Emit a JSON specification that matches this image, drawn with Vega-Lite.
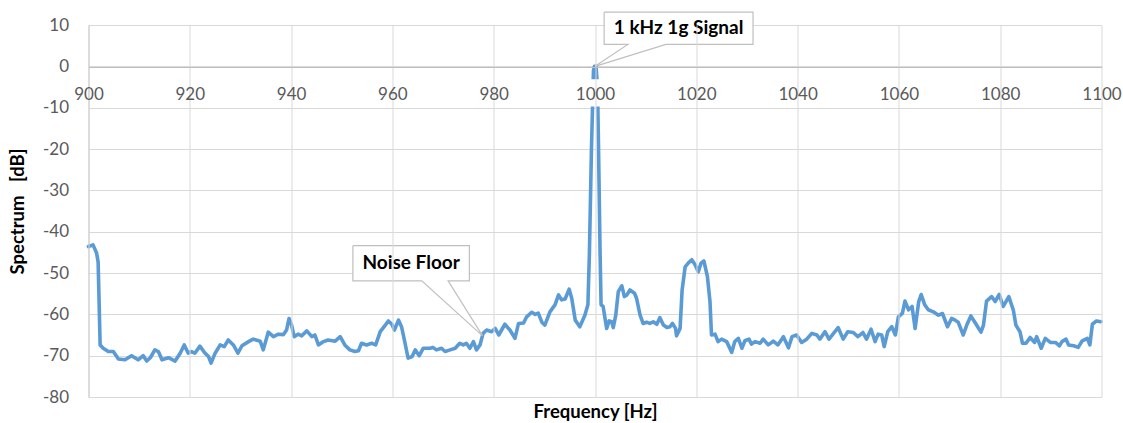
{
  "$schema": "https://vega.github.io/schema/vega-lite/v6.json",
  "width": 1013,
  "height": 372,
  "autosize": {"type": "none"},
  "padding": {"left": 88.5, "top": 25, "right": 21.5, "bottom": 26},
  "background": "white",
  "config": {"view": {"stroke": null}, "font": "Lato"},
  "datasets": {
    "spectrum": [
      {"f": 900.0, "db": -43.6}, {"f": 900.9, "db": -43.2}, {"f": 901.6, "db": -45.2}, {"f": 901.9, "db": -47.3},
      {"f": 902.3, "db": -67.4}, {"f": 902.9, "db": -68.2}, {"f": 903.9, "db": -69.0}, {"f": 904.9, "db": -69.0},
      {"f": 905.9, "db": -70.8}, {"f": 907.2, "db": -71.0}, {"f": 908.5, "db": -70.0}, {"f": 909.8, "db": -71.0},
      {"f": 910.8, "db": -70.0}, {"f": 911.5, "db": -71.3}, {"f": 912.2, "db": -70.5}, {"f": 913.1, "db": -68.6},
      {"f": 913.8, "db": -69.0}, {"f": 914.5, "db": -71.0}, {"f": 915.8, "db": -70.5}, {"f": 917.1, "db": -71.3},
      {"f": 918.1, "db": -69.4}, {"f": 918.9, "db": -67.4}, {"f": 919.7, "db": -69.4}, {"f": 920.3, "db": -69.0},
      {"f": 921.0, "db": -69.4}, {"f": 922.0, "db": -67.7}, {"f": 923.0, "db": -69.4}, {"f": 923.7, "db": -70.2},
      {"f": 924.2, "db": -71.8}, {"f": 925.0, "db": -69.4}, {"f": 926.0, "db": -67.4}, {"f": 926.8, "db": -67.8},
      {"f": 927.6, "db": -66.2}, {"f": 928.6, "db": -67.4}, {"f": 929.5, "db": -69.4}, {"f": 930.3, "db": -67.6},
      {"f": 931.6, "db": -66.6}, {"f": 932.5, "db": -66.0}, {"f": 933.9, "db": -66.5}, {"f": 934.5, "db": -68.6},
      {"f": 935.5, "db": -64.3}, {"f": 936.5, "db": -65.4}, {"f": 937.5, "db": -64.8}, {"f": 938.5, "db": -64.9},
      {"f": 939.1, "db": -63.8}, {"f": 939.6, "db": -61.0}, {"f": 940.1, "db": -62.6}, {"f": 940.6, "db": -65.4},
      {"f": 941.4, "db": -64.8}, {"f": 942.1, "db": -65.2}, {"f": 943.1, "db": -64.0}, {"f": 944.1, "db": -65.4},
      {"f": 944.7, "db": -65.0}, {"f": 945.4, "db": -67.4}, {"f": 946.4, "db": -66.6}, {"f": 947.3, "db": -66.2},
      {"f": 948.7, "db": -66.5}, {"f": 949.7, "db": -65.4}, {"f": 950.6, "db": -67.4}, {"f": 951.6, "db": -68.6},
      {"f": 952.6, "db": -69.0}, {"f": 953.3, "db": -68.8}, {"f": 953.9, "db": -67.0}, {"f": 954.9, "db": -67.4},
      {"f": 955.9, "db": -67.0}, {"f": 956.7, "db": -67.4}, {"f": 957.6, "db": -64.2}, {"f": 958.6, "db": -62.6},
      {"f": 959.2, "db": -61.6}, {"f": 959.9, "db": -62.4}, {"f": 960.4, "db": -63.8}, {"f": 961.2, "db": -61.4},
      {"f": 961.8, "db": -63.0}, {"f": 962.3, "db": -65.8}, {"f": 963.1, "db": -70.6}, {"f": 963.9, "db": -70.2},
      {"f": 964.5, "db": -68.6}, {"f": 965.3, "db": -70.0}, {"f": 966.1, "db": -68.2}, {"f": 967.4, "db": -68.2},
      {"f": 968.0, "db": -68.0}, {"f": 968.7, "db": -68.6}, {"f": 969.7, "db": -68.2}, {"f": 970.4, "db": -69.0},
      {"f": 971.4, "db": -68.6}, {"f": 972.4, "db": -68.2}, {"f": 973.3, "db": -67.0}, {"f": 974.0, "db": -67.4},
      {"f": 974.6, "db": -67.0}, {"f": 975.3, "db": -68.2}, {"f": 976.0, "db": -66.6}, {"f": 976.6, "db": -68.6},
      {"f": 977.3, "db": -67.4}, {"f": 977.9, "db": -64.6}, {"f": 978.6, "db": -63.8}, {"f": 979.6, "db": -64.2},
      {"f": 980.3, "db": -63.4}, {"f": 981.0, "db": -65.0}, {"f": 982.2, "db": -62.4}, {"f": 983.2, "db": -63.8},
      {"f": 984.2, "db": -65.8}, {"f": 984.9, "db": -62.2}, {"f": 985.9, "db": -62.1}, {"f": 986.5, "db": -60.6},
      {"f": 987.5, "db": -59.5}, {"f": 988.2, "db": -60.0}, {"f": 988.8, "db": -59.7}, {"f": 989.5, "db": -61.9},
      {"f": 990.1, "db": -62.6}, {"f": 991.1, "db": -59.4}, {"f": 992.1, "db": -57.7}, {"f": 992.8, "db": -55.3},
      {"f": 993.4, "db": -56.5}, {"f": 994.1, "db": -56.3}, {"f": 994.9, "db": -53.9}, {"f": 995.4, "db": -56.1},
      {"f": 996.1, "db": -61.4}, {"f": 997.0, "db": -63.0}, {"f": 998.0, "db": -60.2}, {"f": 998.6, "db": -57.7},
      {"f": 998.9, "db": -45.0}, {"f": 999.3, "db": -20.0}, {"f": 999.7, "db": -1.0}, {"f": 999.9, "db": 0.0},
      {"f": 1000.2, "db": 0.0}, {"f": 1000.5, "db": -5.0}, {"f": 1000.7, "db": -20.0}, {"f": 1001.0, "db": -45.0},
      {"f": 1001.2, "db": -57.7},
      {"f": 1001.6, "db": -58.1}, {"f": 1002.3, "db": -63.4}, {"f": 1002.8, "db": -61.6}, {"f": 1003.3, "db": -61.8},
      {"f": 1003.6, "db": -63.2}, {"f": 1004.1, "db": -60.2}, {"f": 1004.6, "db": -54.5}, {"f": 1005.3, "db": -53.1},
      {"f": 1005.8, "db": -55.7}, {"f": 1006.3, "db": -55.3}, {"f": 1006.9, "db": -54.1}, {"f": 1007.8, "db": -54.9},
      {"f": 1008.2, "db": -56.1}, {"f": 1008.9, "db": -60.2}, {"f": 1009.5, "db": -62.2}, {"f": 1010.2, "db": -61.9},
      {"f": 1010.8, "db": -62.2}, {"f": 1011.5, "db": -61.8}, {"f": 1012.2, "db": -62.4}, {"f": 1012.8, "db": -60.8},
      {"f": 1013.5, "db": -62.6}, {"f": 1014.2, "db": -63.2}, {"f": 1014.8, "db": -63.0}, {"f": 1015.3, "db": -62.2},
      {"f": 1015.9, "db": -63.4}, {"f": 1016.1, "db": -65.2}, {"f": 1016.8, "db": -63.4}, {"f": 1017.2, "db": -54.1},
      {"f": 1017.8, "db": -48.5}, {"f": 1018.4, "db": -47.6}, {"f": 1019.1, "db": -46.8}, {"f": 1019.7, "db": -47.9},
      {"f": 1020.4, "db": -49.7}, {"f": 1020.9, "db": -47.7}, {"f": 1021.5, "db": -47.1}, {"f": 1022.2, "db": -50.9},
      {"f": 1022.7, "db": -56.9}, {"f": 1023.0, "db": -65.0}, {"f": 1023.7, "db": -64.8}, {"f": 1024.3, "db": -66.6},
      {"f": 1025.0, "db": -66.0}, {"f": 1026.0, "db": -66.6}, {"f": 1027.0, "db": -69.2}, {"f": 1027.6, "db": -66.6},
      {"f": 1028.3, "db": -65.8}, {"f": 1029.0, "db": -68.2}, {"f": 1029.6, "db": -66.4}, {"f": 1030.4, "db": -66.0},
      {"f": 1030.9, "db": -67.2}, {"f": 1031.6, "db": -66.6}, {"f": 1032.6, "db": -67.0}, {"f": 1033.2, "db": -66.0},
      {"f": 1034.2, "db": -67.4}, {"f": 1035.2, "db": -66.5}, {"f": 1036.1, "db": -67.4}, {"f": 1037.2, "db": -65.4},
      {"f": 1038.2, "db": -68.1}, {"f": 1038.9, "db": -65.4}, {"f": 1039.8, "db": -65.0}, {"f": 1040.8, "db": -66.8},
      {"f": 1041.8, "db": -66.0}, {"f": 1042.8, "db": -64.6}, {"f": 1043.8, "db": -65.0}, {"f": 1044.4, "db": -66.0},
      {"f": 1045.4, "db": -64.2}, {"f": 1046.2, "db": -66.0}, {"f": 1047.1, "db": -64.6}, {"f": 1048.0, "db": -63.2},
      {"f": 1049.0, "db": -66.0}, {"f": 1049.9, "db": -64.2}, {"f": 1051.0, "db": -64.4}, {"f": 1051.9, "db": -65.4},
      {"f": 1052.9, "db": -64.4}, {"f": 1053.6, "db": -66.0}, {"f": 1054.5, "db": -63.6}, {"f": 1055.3, "db": -66.6},
      {"f": 1055.9, "db": -64.8}, {"f": 1056.6, "db": -65.0}, {"f": 1057.1, "db": -67.8}, {"f": 1057.8, "db": -64.2},
      {"f": 1058.6, "db": -63.0}, {"f": 1059.3, "db": -65.0}, {"f": 1059.9, "db": -60.6}, {"f": 1060.7, "db": -59.7},
      {"f": 1061.2, "db": -56.8}, {"f": 1061.9, "db": -58.9}, {"f": 1062.6, "db": -58.1}, {"f": 1063.2, "db": -63.4},
      {"f": 1063.9, "db": -57.0}, {"f": 1064.4, "db": -55.2}, {"f": 1065.1, "db": -57.7}, {"f": 1065.8, "db": -58.9},
      {"f": 1066.8, "db": -59.4}, {"f": 1067.8, "db": -60.2}, {"f": 1068.6, "db": -59.8}, {"f": 1069.6, "db": -63.0},
      {"f": 1070.4, "db": -61.0}, {"f": 1071.1, "db": -61.4}, {"f": 1071.7, "db": -61.9}, {"f": 1072.7, "db": -65.0},
      {"f": 1073.4, "db": -62.6}, {"f": 1074.2, "db": -60.4}, {"f": 1075.0, "db": -61.9}, {"f": 1076.2, "db": -64.3},
      {"f": 1076.7, "db": -62.6}, {"f": 1077.3, "db": -56.8}, {"f": 1078.3, "db": -55.7}, {"f": 1079.0, "db": -56.9},
      {"f": 1079.8, "db": -55.2}, {"f": 1080.6, "db": -58.1}, {"f": 1081.7, "db": -55.7}, {"f": 1082.6, "db": -59.0},
      {"f": 1083.1, "db": -62.6}, {"f": 1083.9, "db": -64.2}, {"f": 1084.4, "db": -67.0}, {"f": 1085.1, "db": -67.0},
      {"f": 1085.9, "db": -65.6}, {"f": 1086.8, "db": -66.8}, {"f": 1087.2, "db": -65.4}, {"f": 1088.1, "db": -68.2},
      {"f": 1088.9, "db": -65.8}, {"f": 1089.9, "db": -66.8}, {"f": 1090.9, "db": -66.8}, {"f": 1091.7, "db": -67.6},
      {"f": 1092.2, "db": -66.6}, {"f": 1093.0, "db": -66.0}, {"f": 1093.5, "db": -67.4}, {"f": 1094.5, "db": -67.6},
      {"f": 1095.4, "db": -68.0}, {"f": 1096.2, "db": -66.4}, {"f": 1097.2, "db": -65.8}, {"f": 1097.7, "db": -67.4},
      {"f": 1098.2, "db": -62.4}, {"f": 1099.0, "db": -61.6}, {"f": 1099.9, "db": -61.8}
    ],
    "callouts": [
      {"k": "signal", "i": 0, "f": 1001.8, "db": 13.1}, {"k": "signal", "i": 1, "f": 1031.2, "db": 13.1},
      {"k": "signal", "i": 2, "f": 1031.2, "db": 5.3}, {"k": "signal", "i": 3, "f": 1014.0, "db": 5.3},
      {"k": "signal", "i": 4, "f": 1000.0, "db": 0.0}, {"k": "signal", "i": 5, "f": 1006.5, "db": 5.3},
      {"k": "signal", "i": 6, "f": 1001.8, "db": 5.3}, {"k": "signal", "i": 7, "f": 1001.8, "db": 13.1},
      {"k": "noise", "i": 0, "f": 952.2, "db": -43.4}, {"k": "noise", "i": 1, "f": 975.2, "db": -43.4},
      {"k": "noise", "i": 2, "f": 975.2, "db": -51.9}, {"k": "noise", "i": 3, "f": 971.0, "db": -51.9},
      {"k": "noise", "i": 4, "f": 977.8, "db": -65.2}, {"k": "noise", "i": 5, "f": 965.8, "db": -51.9},
      {"k": "noise", "i": 6, "f": 952.2, "db": -51.9}, {"k": "noise", "i": 7, "f": 952.2, "db": -43.4}
    ],
    "notes": [
      {"f": 1016.5, "db": 9.2, "text": "1 kHz 1g Signal"},
      {"f": 963.7, "db": -47.6, "text": "Noise Floor"}
    ],
    "labelBack": [
      {"f": 996.0, "f2": 1003.8, "db": -3.1, "db2": -9.7}
    ]
  },
  "layer": [
    {
      "data": {"name": "spectrum"},
      "mark": {"type": "line", "color": "#5B9BD5", "strokeWidth": 3.6, "strokeJoin": "round", "strokeCap": "round"},
      "encoding": {
        "x": {
          "field": "f", "type": "quantitative",
          "scale": {"domain": [900, 1100], "nice": false, "zero": false},
          "axis": {
            "values": [900, 920, 940, 960, 980, 1000, 1020, 1040, 1060, 1080, 1100],
            "labelExpr": "'' + datum.value",
            "labelFlush": false,
            "labelOverlap": false,
            "offset": -330,
            "zindex": 1,
            "title": "Frequency [Hz]",
            "titleY": 344,
            "titleBaseline": "middle",
            "titleFontSize": 18.5,
            "titleFontWeight": "bold",
            "titleColor": "#000000",
            "grid": true,
            "gridColor": "#d9d9d9",
            "gridWidth": 1,
            "domainColor": "#bfbfbf",
            "domainWidth": 1,
            "ticks": false,
            "labelPadding": 19,
            "labelFontSize": 17,
            "labelColor": "#595959"
          }
        },
        "y": {
          "field": "db", "type": "quantitative",
          "scale": {"domain": [-80, 10], "nice": false, "zero": false},
          "axis": {
            "values": [-80, -70, -60, -50, -40, -30, -20, -10, 0, 10],
            "labelExpr": "'' + datum.value",
            "labelFlush": false,
            "labelOverlap": false,
            "title": "Spectrum\u00a0\u00a0\u00a0[dB]",
            "titleX": -71,
            "titleY": 186,
            "titleAngle": -90,
            "titleAlign": "center",
            "titleBaseline": "middle",
            "titleFontSize": 18.5,
            "titleFontWeight": "bold",
            "titleColor": "#000000",
            "grid": true,
            "gridColor": "#d9d9d9",
            "gridWidth": 1,
            "domainColor": "#bfbfbf",
            "domainWidth": 1,
            "ticks": false,
            "labelPadding": 20,
            "labelFontSize": 17,
            "labelColor": "#595959"
          }
        }
      }
    },
    {
      "data": {"name": "labelBack"},
      "mark": {"type": "rect", "color": "white"},
      "encoding": {
        "x": {"field": "f", "type": "quantitative"},
        "x2": {"field": "f2"},
        "y": {"field": "db", "type": "quantitative"},
        "y2": {"field": "db2"}
      }
    },
    {
      "data": {"name": "callouts"},
      "mark": {"type": "line", "fill": "white", "stroke": "#bfbfbf", "strokeWidth": 1.2, "interpolate": "linear"},
      "encoding": {
        "x": {"field": "f", "type": "quantitative"},
        "y": {"field": "db", "type": "quantitative"},
        "detail": {"field": "k"},
        "order": {"field": "i", "type": "quantitative"}
      }
    },
    {
      "data": {"name": "notes"},
      "mark": {"type": "text", "font": "Lato", "fontSize": 19, "fontWeight": "bold", "color": "#000000", "align": "center", "baseline": "middle"},
      "encoding": {
        "x": {"field": "f", "type": "quantitative"},
        "y": {"field": "db", "type": "quantitative"},
        "text": {"field": "text"}
      }
    }
  ]
}
